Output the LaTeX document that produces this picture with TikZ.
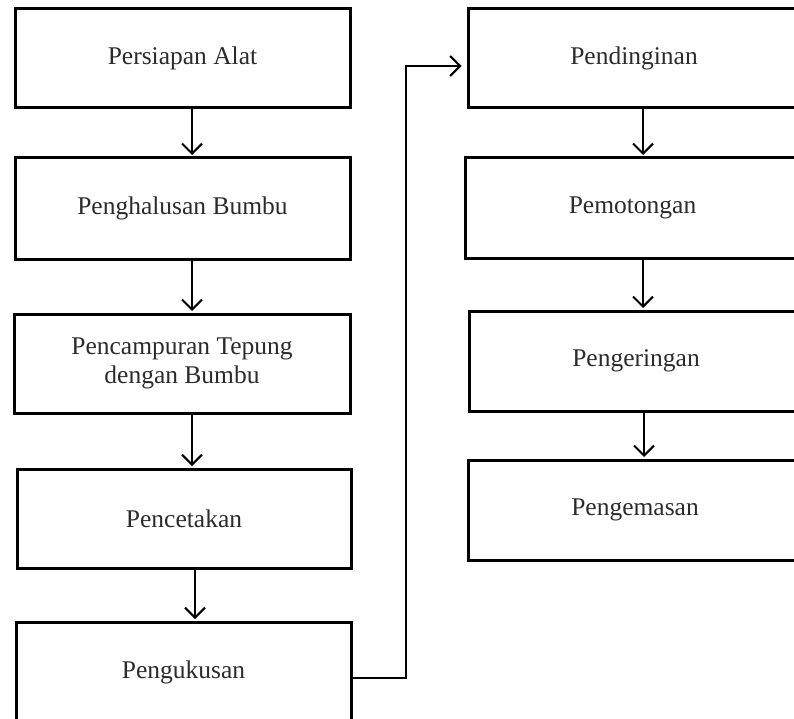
\documentclass[tikz,border=0pt]{standalone}
\usepackage{fontspec}
\setmainfont{Liberation Serif}
\usetikzlibrary{arrows.meta,calc}
\definecolor{txt}{HTML}{2B2B2B}
\begin{document}
\begin{tikzpicture}[x=1pt,y=-1pt,
  stepbox/.style={draw=black,line width=3pt,rectangle,inner sep=0pt,
    font=\fontsize{25.5}{29}\selectfont,text=txt,align=center},
  conn/.style={draw=black,line width=2pt,-{Straight Barb[length=10pt,width=20pt,line width=2pt]}},
  plain/.style={draw=black,line width=2pt}]
\useasboundingbox (0,0) rectangle (794,719);
\clip (0,0) rectangle (794,719);
% left column
\node[stepbox,minimum width=335pt,minimum height=99pt] (a1) at (182.5,58.5) {Persiapan Alat};
\node[stepbox,minimum width=335pt,minimum height=101pt] (a2) at (182.5,208.5) {Penghalusan Bumbu};
\node[stepbox,minimum width=336pt,minimum height=99pt] (a3) at (182,363.5) {Pencampuran Tepung\\dengan Bumbu};
\node[stepbox,minimum width=334pt,minimum height=99pt] (a4) at (184,518.5) {Pencetakan};
\node[stepbox,minimum width=335pt,minimum height=100pt] (a5) at (183.5,672) {Pengukusan};
% right column
\node[stepbox,minimum width=332pt,minimum height=99pt] (b1) at (634,58.5) {Pendinginan};
\node[stepbox,minimum width=335pt,minimum height=100pt] (b2) at (632.5,208) {Pemotongan};
\node[stepbox,minimum width=334pt,minimum height=100pt] (b3) at (636,361) {Pengeringan};
\node[stepbox,minimum width=334pt,minimum height=100pt] (b4) at (635,510) {Pengemasan};
% x positions of the arrows
\coordinate (xl) at (192,0);
\coordinate (xl4) at (195,0);
\coordinate (xr) at (643,0);
\coordinate (xr3) at (644,0);
% arrows left
\draw[conn] (a1.south -| xl) -- ($(a2.north -| xl)+(0,-1.5)$);
\draw[conn] (a2.south -| xl) -- ($(a3.north -| xl)+(0,-1.5)$);
\draw[conn] (a3.south -| xl) -- ($(a4.north -| xl)+(0,-1.5)$);
\draw[conn] (a4.south -| xl4) -- ($(a5.north -| xl4)+(0,-1.5)$);
% arrows right
\draw[conn] (b1.south -| xr) -- ($(b2.north -| xr)+(0,-1.5)$);
\draw[conn] (b2.south -| xr) -- ($(b3.north -| xr)+(0,-1.5)$);
\draw[conn] (b3.south -| xr3) -- ($(b4.north -| xr3)+(0,-1.5)$);
% long connector
\coordinate (c1) at (406,678);
\coordinate (c2) at (406,66);
\draw[conn] (a5.east |- c1) -- (c1) -- (c2) -- ($(b1.west |- c2)+(-5,0)$);
\end{tikzpicture}
\end{document}
